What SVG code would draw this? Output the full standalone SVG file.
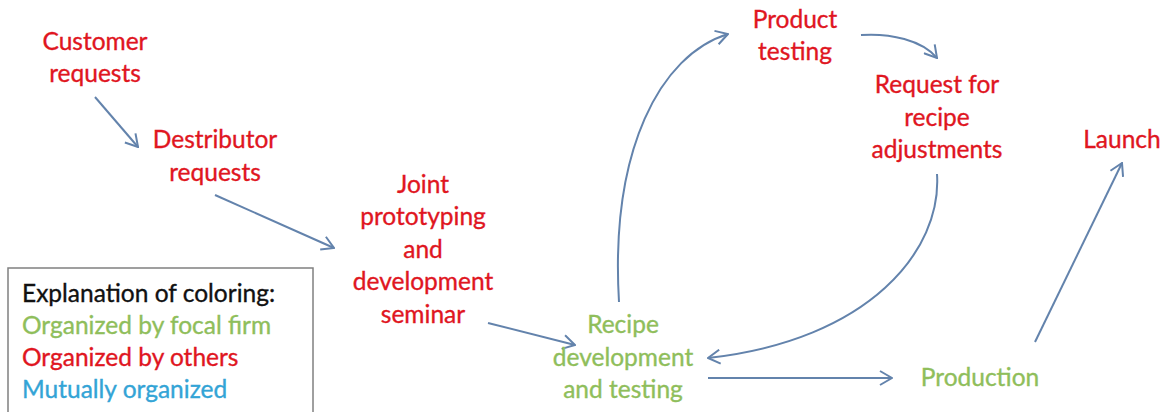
<svg xmlns="http://www.w3.org/2000/svg" width="1163" height="412" viewBox="0 0 1163 412">
  <defs>
    <style>
      text { font-family: Lato, "Open Sans", "Liberation Sans", sans-serif; font-size: 24.5px; stroke-width: 0.35px; }
      .red { fill: #e0161f; stroke: #e0161f; text-anchor: middle; }
      .green { fill: #8fbe5b; stroke: #8fbe5b; text-anchor: middle; }
      .legend { text-anchor: start; }
      .k-black { fill: #111111; stroke: #111111; }
      .k-green { fill: #8fbe5b; stroke: #8fbe5b; }
      .k-red { fill: #e0161f; stroke: #e0161f; }
      .k-blue { fill: #33a4d6; stroke: #33a4d6; }
      .conn { fill: none; stroke: #6383ac; stroke-width: 2; marker-end: url(#chev); }
    </style>
    <marker id="chev" viewBox="0 0 14 16" refX="13" refY="8" markerWidth="14" markerHeight="16" markerUnits="userSpaceOnUse" orient="auto">
      <path d="M1,1 L13,8 L1,15" fill="none" stroke="#6383ac" stroke-width="2"/>
    </marker>
  </defs>
  <rect width="1163" height="412" fill="#ffffff"/>

  <!-- connectors -->
  <g id="connectors">
    <path class="conn" d="M95,97 L138,147"/>
    <path class="conn" d="M215,195 L334,248"/>
    <path class="conn" d="M488,323 L575,345"/>
    <path class="conn" d="M619,302 C610,150 660,55 728,34"/>
    <path class="conn" d="M861,35 C890,33 922,40 937,58"/>
    <path class="conn" d="M937,174 C942,250 870,340 708,358"/>
    <path class="conn" d="M708,378 L892,378"/>
    <path class="conn" d="M1035,342 L1122,163"/>
  </g>

  <!-- nodes -->
  <g id="customer-requests">
    <text class="red" x="95" y="50">Customer</text>
    <text class="red" x="95" y="82">requests</text>
  </g>
  <g id="distributor-requests">
    <text class="red" x="215" y="148">Destributor</text>
    <text class="red" x="215" y="181">requests</text>
  </g>
  <g id="joint-prototyping">
    <text class="red" x="423" y="193">Joint</text>
    <text class="red" x="423" y="225">prototyping</text>
    <text class="red" x="423" y="258">and</text>
    <text class="red" x="423" y="290">development</text>
    <text class="red" x="423" y="323">seminar</text>
  </g>
  <g id="recipe-development">
    <text class="green" x="623" y="333">Recipe</text>
    <text class="green" x="623" y="366">development</text>
    <text class="green" x="623" y="398">and testing</text>
  </g>
  <g id="product-testing">
    <text class="red" x="795" y="28">Product</text>
    <text class="red" x="795" y="60">testing</text>
  </g>
  <g id="request-adjustments">
    <text class="red" x="937" y="93">Request for</text>
    <text class="red" x="937" y="126">recipe</text>
    <text class="red" x="937" y="158">adjustments</text>
  </g>
  <g id="production">
    <text class="green" x="980" y="386">Production</text>
  </g>
  <g id="launch">
    <text class="red" x="1122" y="148">Launch</text>
  </g>

  <!-- colour key -->
  <g id="legend">
    <rect x="8" y="268" width="305" height="160" fill="none" stroke="#808080" stroke-width="1.5"/>
    <text class="legend k-black" x="22" y="302">Explanation of coloring:</text>
    <text class="legend k-green" x="22" y="334">Organized by focal firm</text>
    <text class="legend k-red" x="22" y="366">Organized by others</text>
    <text class="legend k-blue" x="22" y="398">Mutually organized</text>
  </g>
</svg>
